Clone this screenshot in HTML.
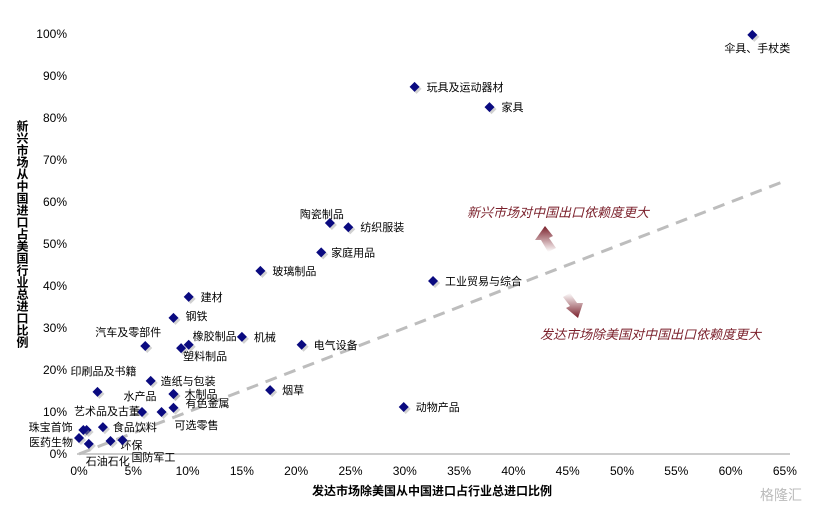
<!DOCTYPE html>
<html><head><meta charset="utf-8"><style>
body{margin:0;background:#fff;}
svg text{font-family:"Liberation Sans","Noto Sans CJK SC",sans-serif;}
</style></head><body>
<svg id="chart" width="826" height="512" viewBox="0 0 826 512" xmlns="http://www.w3.org/2000/svg">
<defs>
<linearGradient id="g1" x1="0" y1="1" x2="0" y2="0"><stop offset="0" stop-color="#7a1f2a" stop-opacity="0"/><stop offset="1" stop-color="#7a1f2a"/></linearGradient>
<linearGradient id="g2" x1="0" y1="0" x2="0" y2="1"><stop offset="0" stop-color="#7a1f2a" stop-opacity="0"/><stop offset="1" stop-color="#7a1f2a"/></linearGradient>
</defs>
<g id="axes"></g>
<g id="marks"></g>
<text x="467" y="217" font-size="13" font-style="italic" fill="#7a1f2a">新兴市场对中国出口依赖度更大</text>
<text x="540" y="339" font-size="13" font-style="italic" fill="#7a1f2a">发达市场除美国对中国出口依赖度更大</text>
<g><polygon points="545,226 535,240 541,240 548,252 556,248 549,238 553,236" fill="url(#g1)"/></g>
<g><polygon points="578,318 583,303 577,303 570,293 563,297 570,306 566,308" fill="url(#g2)"/></g>
<text x="432" y="495" font-size="12" font-weight="bold" text-anchor="middle" fill="#000">发达市场除美国从中国进口占行业总进口比例</text>
<text x="760" y="500" font-size="14" fill="#bbb">格隆汇</text>
</svg>
<script>
const names=["伞具、手杖类","玩具及运动器材","家具","陶瓷制品","纺织服装","家庭用品","工业贸易与综合","玻璃制品","建材","钢铁","机械","橡胶制品","塑料制品","汽车及零部件","电气设备","印刷品及书籍","造纸与包装","水产品","木制品","烟草","动物产品","有色金属","可选零售","艺术品及古董","珠宝首饰","食品饮料","医药生物","石油石化","环保","国防军工"];
const xVals=[62,30.9,37.8,23.1,24.8,22.3,32.6,16.7,10.1,8.7,15,10.1,9.4,6.1,20.5,1.7,6.6,8.7,8.7,17.6,29.9,8.7,7.6,5.8,0.7,2.2,0,0.9,2.9,4];
const yVals=[99.8,87.4,82.6,55,54,48,41.2,43.6,37.4,32.4,27.9,26,25.2,25.7,26,14.8,17.4,14.3,14.3,15.2,11.2,11,10,10,5.7,6.4,3.8,2.4,3.1,3.3];
const extraX=[0.4];const extraY=[5.7];
const xTicks=[0,5,10,15,20,25,30,35,40,45,50,55,60,65];
const yTicks=[0,10,20,30,40,50,60,70,80,90,100];
const NS="http://www.w3.org/2000/svg";
const X=v=>79+v*10.86, Y=v=>454-v*4.2;
const lab=[[-28,17,"start"],[12,4,"start"],[12,4,"start"],[-30,-5,"start"],[12,4,"start"],[10,4,"start"],[12,4,"start"],[12,4,"start"],[12,4,"start"],[12,2,"start"],[12,4,"start"],[4,-5,"start"],[2,12,"start"],[-50,-10,"start"],[12,4,"start"],[-27,-17,"start"],[10,4,"start"],[-50,6,"start"],[11,4,"start"],[12,4,"start"],[12,4,"start"],[12,-1,"start"],[13,17,"start"],[-68,3,"start"],[-58,1,"start"],[10,4,"start"],[-50,8,"start"],[-3,21,"start"],[10,8,"start"],[9,21,"start"]];
function el(t,a,p){const e=document.createElementNS(NS,t);for(const k in a)e.setAttribute(k,a[k]);(p||document.getElementById('chart')).appendChild(e);return e;}
const ax=document.getElementById('axes'),mk=document.getElementById('marks');
const xl=el('line',{x1:77,y1:454,x2:790,y2:454,stroke:'#bbb','stroke-width':1.5},ax);


xTicks.forEach(t=>{const e=el('text',{x:X(t),y:475,'font-size':12,'text-anchor':'middle',fill:'#000'},ax);e.textContent=t+'%';

});
yTicks.forEach(t=>{const e=el('text',{x:67,y:Y(t)+4,'font-size':12,'text-anchor':'end',fill:'#000'},ax);e.textContent=t+'%';

});
const yt=el('text',{x:22,y:120,'font-size':12,'font-weight':'bold','writing-mode':'tb',fill:'#000'},ax);
yt.textContent='新兴市场从中国进口占美国行业总进口比例';


const ref=el('line',{x1:X(0),y1:Y(0),x2:X(65),y2:Y(65),stroke:'#bdbdbd','stroke-width':3,'stroke-dasharray':'12,8'},ax);


function diamond(x,y){const cx=X(x),cy=Y(y);
const s=el('polygon',{points:`${cx+2},${cy-3} ${cx+7},${cy+2} ${cx+2},${cy+7} ${cx-3},${cy+2}`,fill:'#999',opacity:0.45},mk);


const d=el('polygon',{points:`${cx},${cy-5} ${cx+5},${cy} ${cx},${cy+5} ${cx-5},${cy}`,fill:'#0a0a80'},mk);

}
names.forEach((n,i)=>{diamond(xVals[i],yVals[i]);
const t=el('text',{x:X(xVals[i])+lab[i][0],y:Y(yVals[i])+lab[i][1],'font-size':11,'text-anchor':lab[i][2],fill:'#000'},mk);t.textContent=n;

});
extraX.forEach((x,i)=>diamond(x,extraY[i]));
</script>
</body></html>
